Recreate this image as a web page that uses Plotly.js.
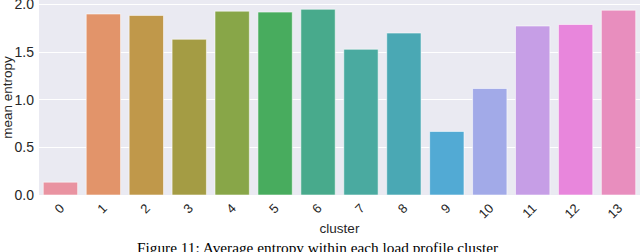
<!DOCTYPE html>
<html>
<head>
<meta charset="utf-8">
<script src="https://cdn.plot.ly/plotly-3.0.1.min.js"></script>
<style>
  html, body { margin: 0; padding: 0; background: #ffffff; }
  #chart { width: 640px; height: 252px; }
</style>
</head>
<body>
<div id="chart"></div>
<script>
const clusters = ["0","1","2","3","4","5","6","7","8","9","10","11","12","13"];
const meanEntropy = [0.135, 1.90, 1.885, 1.635, 1.93, 1.92, 1.95, 1.53, 1.70, 0.667, 1.118, 1.774, 1.79, 1.94];
const barColors = ["#e993a1","#e2946a","#c0984a","#a49c44","#88a648","#48ac5e","#48aa8c","#4aaaa0","#4aa8b4","#52aad4","#a2aae8","#c69ee6","#e886dc","#e88ebe"];
const xTitle = "cluster";
const yTitle = "mean entropy";
const caption = "Figure 11: Average entropy within each load profile cluster";

const trace = {
  type: "bar",
  x: clusters,
  y: meanEntropy,
  marker: { color: barColors, line: { color: "rgba(255,255,255,0.55)", width: 1 } },
  width: 0.8,
  hoverinfo: "skip"
};

const layout = {
  width: 640, height: 252,
  margin: { l: 38.5, r: 0, t: 0, b: 56.5, pad: 0 },
  paper_bgcolor: "#ffffff",
  plot_bgcolor: "#eaeaf2",
  font: { family: "Liberation Sans, Arial, sans-serif", size: 13, color: "#262626" },
  showlegend: false,
  bargap: 0.2,
  xaxis: {
    type: "category",
    tickangle: -45,
    showgrid: false,
    zeroline: false,
    showline: false,
    ticks: "",
    ticklabelstandoff: 2,
    tickfont: { size: 13, color: "#262626" },
    title: { text: xTitle, font: { size: 13.5, color: "#262626" }, standoff: 3 },
    automargin: false
  },
  yaxis: {
    range: [0, 2.047],
    tickvals: [0, 0.5, 1.0, 1.5, 2.0],
    ticktext: ["0.0", "0.5", "1.0", "1.5", "2.0"],
    showgrid: true,
    gridcolor: "#ffffff",
    gridwidth: 1,
    zeroline: false,
    showline: false,
    ticks: "",
    ticklabelstandoff: 4,
    ticklabeloverflow: "allow",
    tickfont: { size: 14, color: "#262626" },
    title: { text: yTitle, font: { size: 13.5, color: "#262626" }, standoff: 4 },
    automargin: false
  },
  annotations: [{
    text: caption,
    xref: "paper", yref: "paper",
    x: 0.463, y: 0, yshift: -42,
    xanchor: "center", yanchor: "top",
    showarrow: false,
    font: { family: "Liberation Serif, Times New Roman, serif", size: 15.3, color: "#000000" }
  }]
};

Plotly.newPlot("chart", [trace], layout, { displayModeBar: false, staticPlot: true });
</script>
</body>
</html>
